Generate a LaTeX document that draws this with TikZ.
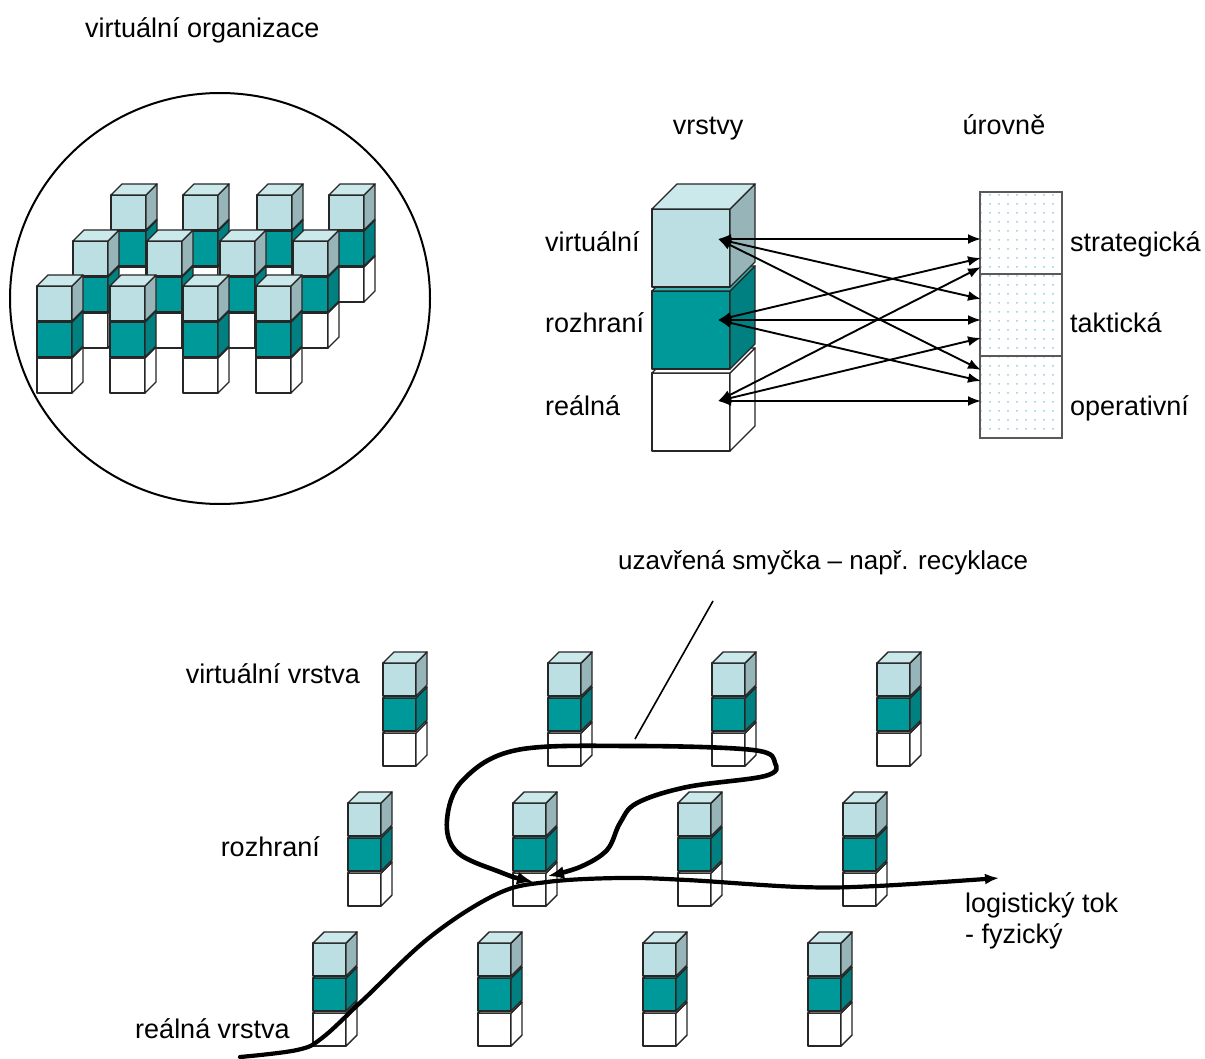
\documentclass[tikz,border=0pt]{standalone}
\usepackage{fontspec}
\setmainfont{Liberation Sans}
\usetikzlibrary{arrows.meta,patterns.meta}

\definecolor{lightface}{HTML}{BBDFE3}
\definecolor{lightside}{HTML}{97B5B9}
\definecolor{lighttop}{HTML}{CBE8EB}
\definecolor{tealface}{HTML}{009999}
\definecolor{tealside}{HTML}{008080}
\definecolor{tealtop}{HTML}{33B2B2}
\definecolor{dotcolor}{HTML}{92CDD5}

\tikzset{
  cubeline/.style={draw=black!85, line width=1.4pt, line join=round},
  lbl/.style={font=\fontsize{27}{32}\selectfont, inner sep=0pt},
  levelbox/.style={draw=black!65, line width=1.3pt, minimum width=82pt, minimum height=82pt,
    pattern={Dots[radius=1pt, distance=9pt]}, pattern color=dotcolor},
  linkarrow/.style={{Latex[length=13pt,width=10pt]}-{Latex[length=13pt,width=10pt]}, line width=1.9pt},
  flowline/.style={line width=4.2pt, line cap=round},
}

% one cube: x, y (top left of front face), size, depth, front, side, top
\newcommand{\onecube}[7]{%
  \filldraw[cubeline, fill=#5] ({#1},{#2}) rectangle ++(#3,#3);
  \filldraw[cubeline, fill=#6] ({#1+#3},{#2}) -- ++(#4,-#4) -- ++(0,#3) -- ++(-#4,#4) -- cycle;
  \filldraw[cubeline, fill=#7] ({#1},{#2}) -- ++(#4,-#4) -- ++(#3,0) -- ++(-#4,#4) -- cycle;
}
% stack of three: x, y, size, depth, gap
\newcommand{\cubestack}[5]{%
  \onecube{#1}{#2+2*(#3+#5)}{#3}{#4}{white}{white}{white}
  \onecube{#1}{#2+#3+#5}{#3}{#4}{tealface}{tealside}{tealtop}
  \onecube{#1}{#2}{#3}{#4}{lightface}{lightside}{lighttop}
}

\begin{document}
\begin{tikzpicture}[x=1pt, y=-1pt]
    \useasboundingbox (0,0) rectangle (1205,1059);

    % Virtual organisation
    \node[lbl, anchor=base west] (orgtitle) at (85,38) {virtuální organizace};
    \draw[line width=2pt] (220,298.5) ellipse [x radius=210, y radius=205.5];
    \foreach \x in {111,183,257,329} {\cubestack{\x}{195}{35}{11}{1}}
    \foreach \x in {73,147,220,293} {\cubestack{\x}{241}{35}{11}{1}}
    \foreach \x in {37,110,183,256} {\cubestack{\x}{286}{35}{11}{1}}

    % Layers
    \node[lbl, anchor=base] (layerstitle) at (708,135) {vrstvy};
    \cubestack{652}{209}{78}{25}{4}
    \node[lbl, anchor=base west] (virtlbl) at (545,252) {virtuální};
    \node[lbl, anchor=base west] (interlbl) at (545,333) {rozhraní};
    \node[lbl, anchor=base west] (reallbl) at (545,415) {reálná};
    \coordinate (lv) at (718,239);
    \coordinate (lr) at (718,320);
    \coordinate (ll) at (718,401);

    % Levels
    \node[lbl, anchor=base] (levelstitle) at (1004,135) {úrovně};
    \node[levelbox] (strat) at (1021,233) {};
    \node[levelbox] (takt) at (1021,315) {};
    \node[levelbox] (oper) at (1021,397) {};
    \node[lbl, anchor=base west] (stratlbl) at (1070,252) {strategická};
    \node[lbl, anchor=base west] (taktlbl) at (1070,333) {taktická};
    \node[lbl, anchor=base west] (operlbl) at (1070,415) {operativní};
    \coordinate (s1) at (981,239);
    \coordinate (s2) at (981,258);
    \coordinate (s3) at (981,267);
    \coordinate (t1) at (981,299);
    \coordinate (t2) at (981,320);
    \coordinate (t3) at (981,338);
    \coordinate (o1) at (981,370);
    \coordinate (o2) at (981,381);
    \coordinate (o3) at (981,401);

    % Links
    \foreach \a/\b in {lv/s1,lv/t1,lv/o1,lr/s2,lr/t2,lr/o2,ll/s3,ll/t3,ll/o3}
        \draw[linkarrow] (\a) -- (\b);

    % Network of layers
    \node[lbl, anchor=base east] (virtrow) at (360,683) {virtuální vrstva};
    \node[lbl, anchor=base east] (interrow) at (320,856) {rozhraní};
    \node[lbl, anchor=base east] (realrow) at (290,1038) {reálná vrstva};
    \foreach \x in {383,548,712,877} {\cubestack{\x}{663}{33}{11}{2}}
    \foreach \x in {348,513,678,843} {\cubestack{\x}{803}{33}{11}{2}}
    \foreach \x in {313,478,643,808} {\cubestack{\x}{943}{33}{11}{2}}

    % Closed loop
    \node[lbl, font=\fontsize{26}{31}\selectfont, anchor=base west] (looplbl) at (618,569) {uzavřená smyčka – např. recyklace};
    \coordinate (looptip) at (713,601);
    \coordinate (loopfoot) at (635,739);
    \draw[line width=1.6pt] (looptip) -- (loopfoot);
    \coordinate (loopin) at (533,882);
    \coordinate (loopout) at (548,876);
    \draw[flowline, line width=4.6pt, {Latex[length=16pt,width=13pt]}-{Latex[length=16pt,width=13pt]}]
        plot[smooth, tension=0.6] coordinates {(loopin) (500,872) (457,852) (447,820) (463,780)
        (517,750) (633,746) (753,750) (775,763) (765,776) (687,787) (637,803) (620,823)
        (607,850) (580,867) (loopout)};

    % Logistic flow
    \node[lbl, anchor=base west] (flowlbl) at (965,912) {logistický tok};
    \node[lbl, anchor=base west] (flowsub) at (965,943) {- fyzický};
    \coordinate (flowstart) at (240,1057);
    \coordinate (flowend) at (999,878);
    \draw[flowline, -{Latex[length=14pt,width=11pt]}]
        plot[smooth, tension=0.6] coordinates {(flowstart) (297,1050) (322,1038) (363,1000)
        (430,937) (497,894) (547,882) (620,878) (687,880) (800,887) (877,886) (flowend)};
\end{tikzpicture}
\end{document}
